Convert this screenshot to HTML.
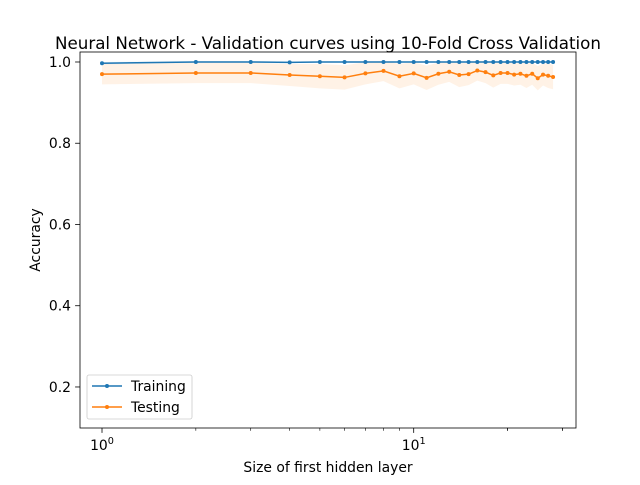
<!DOCTYPE html>
<html><head><meta charset="utf-8"><style>
body{margin:0;background:#fff}
svg text{font-family:"DejaVu Sans","Liberation Sans",sans-serif;fill:#000}
</style></head><body>
<svg id="c" width="640" height="480"></svg>
<script>
const xs=[1,2,3,4,5,6,7,8,9,10,11,12,13,14,15,16,17,18,19,20,21,22,23,24,25,26,27,28];
const trainMean=[0.997,1,1,0.999,1,1,1,1,1,1,1,1,1,1,1,1,1,1,1,1,1,1,1,1,1,1,1,1];
const trainStd=[0.003,0.002,0.002,0.002,0.001,0.001,0.001,0.001,0.001,0.001,0.001,0.001,0.001,0.001,0.001,0.001,0.001,0.001,0.001,0.001,0.001,0.001,0.001,0.001,0.001,0.001,0.001,0.001];
const testMean=[0.970,0.973,0.973,0.968,0.965,0.962,0.972,0.978,0.965,0.972,0.961,0.971,0.976,0.968,0.970,0.979,0.975,0.967,0.973,0.973,0.969,0.971,0.966,0.971,0.960,0.969,0.966,0.963];
const testStd=[0.025,0.025,0.025,0.027,0.03,0.03,0.027,0.025,0.03,0.027,0.03,0.027,0.025,0.03,0.027,0.025,0.027,0.03,0.027,0.027,0.027,0.027,0.03,0.027,0.03,0.027,0.03,0.03];
const yTicks=[0.2,0.4,0.6,0.8,1.0];
const yTickLabels=["0.2","0.4","0.6","0.8","1.0"];
const L=80,R=576,T=52,B=428;
const xmin=-0.0706,xmax=1.5207,ymin=0.099,ymax=1.0246;
const X=v=>L+(Math.log10(v)-xmin)/(xmax-xmin)*(R-L);
const Y=v=>B-(v-ymin)/(ymax-ymin)*(B-T);
const svg=document.getElementById('c');const NS='http://www.w3.org/2000/svg';
function mk(t,a,p){const e=document.createElementNS(NS,t);for(const k in a)e.setAttribute(k,a[k]);(p||svg).appendChild(e);return e;}
function band(m,s,col,name){let d='';xs.forEach((x,i)=>{d+=(i?'L':'M')+X(x)+','+Y(m[i]+s[i]);});for(let i=xs.length-1;i>=0;i--)d+='L'+X(xs[i])+','+Y(m[i]-s[i]);
const e=mk('path',{d:d+'Z',fill:col,'fill-opacity':0.1,stroke:'none'});

}
function line(m,col,name){const p=xs.map((x,i)=>X(x)+','+Y(m[i])).join(' ');
const g=mk('g',{});


mk('polyline',{points:p,fill:'none',stroke:col,'stroke-width':1.5},g);
xs.forEach((x,i)=>{const c=mk('circle',{cx:X(x),cy:Y(m[i]),r:2,fill:col},g);

});}
band(trainMean,trainStd,'#1f77b4','training-band');
band(testMean,testStd,'#ff7f0e','testing-band');
line(trainMean,'#1f77b4','training-line');
line(testMean,'#ff7f0e','testing-line');
const fr=mk('rect',{x:L,y:T,width:R-L,height:B-T,fill:'none',stroke:'#000','stroke-width':0.8});


yTicks.forEach((v,i)=>{mk('line',{x1:L-4.9,x2:L,y1:Y(v),y2:Y(v),stroke:'#000','stroke-width':0.8});
const t=mk('text',{x:L-9,y:Y(v)+5,'text-anchor':'end','font-size':13.9});t.textContent=yTickLabels[i];

});
for(let d=0;d<2;d++)for(let k=1;k<10;k++){const v=k*Math.pow(10,d);if(v<0.852||v>33)continue;
mk('line',{x1:X(v),x2:X(v),y1:B,y2:B+(k==1?4.9:2.8),stroke:'#000','stroke-width':k==1?0.8:0.6});}
for(let v=20;v<=30;v+=10)mk('line',{x1:X(v),x2:X(v),y1:B,y2:B+2.8,stroke:'#000','stroke-width':0.6});
[[1,'0'],[10,'1']].forEach(([v,e])=>{const t=mk('text',{x:X(v),y:B+22,'text-anchor':'middle','font-size':13.9});
t.innerHTML='10<tspan dy="-6" font-size="9.7">'+e+'</tspan>';

});
let t=mk('text',{x:328,y:472,'text-anchor':'middle','font-size':13.9});t.textContent='Size of first hidden layer';


t=mk('text',{x:0,y:0,'text-anchor':'middle','font-size':13.9,transform:'translate(40,240) rotate(-90)'});t.textContent='Accuracy';


t=mk('text',{x:328,y:49,'text-anchor':'middle','font-size':16.7});t.textContent='Neural Network - Validation curves using 10-Fold Cross Validation';


const lg=mk('g',{});


mk('rect',{x:87,y:375,width:105,height:44,rx:2,fill:'#fff','fill-opacity':0.8,stroke:'#ccc','stroke-width':0.8},lg);
[['Training','#1f77b4',386],['Testing','#ff7f0e',407]].forEach(([n,c,y])=>{
mk('line',{x1:92,x2:122,y1:y,y2:y,stroke:c,'stroke-width':1.5},lg);
mk('circle',{cx:107,cy:y,r:2,fill:c},lg);
const tt=mk('text',{x:131,y:y+5,'font-size':13.9},lg);tt.textContent=n;

});
</script>
</body></html>
